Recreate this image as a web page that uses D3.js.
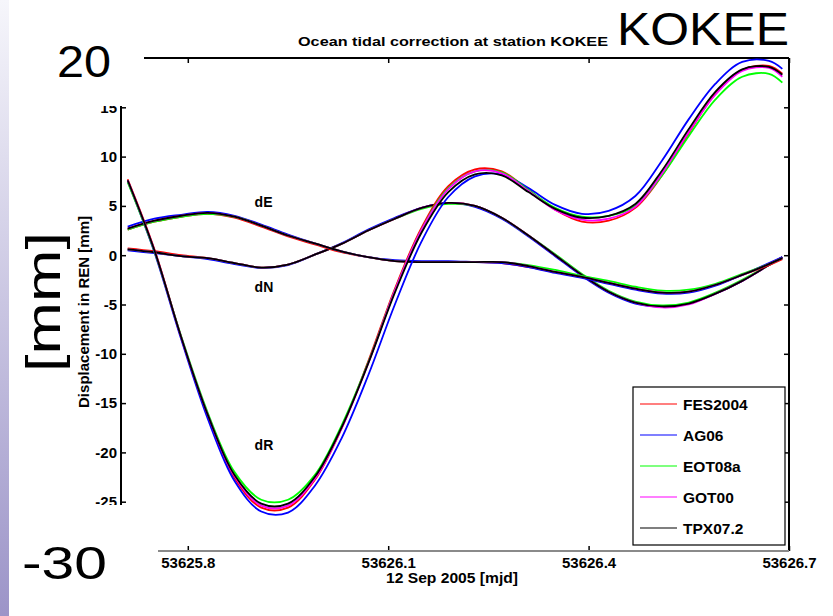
<!DOCTYPE html>
<html>
<head>
<meta charset="utf-8">
<script src="https://cdn.jsdelivr.net/npm/d3@7"></script>
<style>
  html, body { margin: 0; padding: 0; background: #fff; }
  svg { display: block; font-family: "Liberation Sans", Arial, sans-serif; }
</style>
</head>
<body>
<svg id="chart"></svg>
<script>
const width = 833;
const height = 616;

// ----- DATA -----
const mjd = [53625.71, 53625.75, 53625.79, 53625.83, 53625.87, 53625.91, 53625.95, 53625.99,
  53626.03, 53626.07, 53626.11, 53626.15, 53626.19, 53626.23, 53626.27, 53626.31, 53626.35,
  53626.39, 53626.43, 53626.47, 53626.51, 53626.55, 53626.59, 53626.63, 53626.67, 53626.69];

// radial (dR)
const fesR = [7.7, 0.6, -8.3, -16.3, -22.6, -25.6, -25.6, -22.8, -17.6, -10.8, -3.4, 2.8, 7.0, 8.7, 8.5, 6.6, 4.6, 3.4, 3.5, 4.8, 8.1, 12.4, 16.4, 18.8, 19.2, 18.4];
const agR  = [7.5, 0.3, -8.5, -16.6, -22.9, -26.0, -26.1, -23.4, -18.6, -12.2, -5.0, 1.4, 5.9, 8.0, 8.2, 6.8, 5.1, 4.2, 4.5, 6.0, 9.6, 13.8, 17.4, 19.6, 19.7, 18.9];
const eotR = [7.4, 0.4, -8.2, -16.0, -22.0, -24.8, -24.8, -22.3, -17.3, -10.9, -3.6, 2.6, 6.8, 8.5, 8.4, 6.6, 4.8, 3.9, 4.0, 5.0, 8.1, 12.1, 15.8, 18.1, 18.4, 17.5];
const gotR = [7.6, 0.5, -8.3, -16.2, -22.4, -25.4, -25.4, -22.7, -17.6, -11.0, -3.6, 2.6, 6.7, 8.5, 8.3, 6.5, 4.6, 3.6, 3.7, 4.9, 8.3, 12.5, 16.3, 18.7, 19.0, 18.1];
const tpxR = [7.6, 0.5, -8.3, -16.2, -22.3, -25.2, -25.2, -22.5, -17.5, -11.0, -3.8, 2.3, 6.4, 8.2, 8.1, 6.4, 4.7, 3.8, 4.0, 5.2, 8.6, 12.8, 16.6, 18.85, 19.1, 18.3];

// east (dE)
const fesE = [2.6, 3.4, 3.9, 4.2, 3.8, 2.9, 1.9, 1.1, 0.3, -0.2, -0.6, -0.7, -0.7, -0.7, -0.8, -1.2, -1.7, -2.2, -2.8, -3.4, -3.8, -3.7, -3.0, -2.0, -1.0, -0.4];
const agE  = [2.9, 3.7, 4.1, 4.4, 4.0, 3.1, 2.1, 1.2, 0.4, -0.2, -0.5, -0.6, -0.6, -0.7, -0.8, -1.2, -1.8, -2.3, -2.9, -3.5, -3.9, -3.8, -3.1, -2.0, -0.8, -0.2];
const eotE = [2.6, 3.4, 3.9, 4.2, 3.9, 3.0, 2.0, 1.2, 0.4, -0.2, -0.6, -0.7, -0.7, -0.7, -0.7, -1.0, -1.5, -2.1, -2.6, -3.2, -3.6, -3.5, -2.9, -1.9, -0.9, -0.3];
const gotE = [2.7, 3.5, 4.0, 4.3, 3.9, 3.0, 2.0, 1.2, 0.4, -0.2, -0.6, -0.7, -0.7, -0.7, -0.7, -1.1, -1.7, -2.2, -2.8, -3.4, -3.8, -3.7, -3.0, -2.0, -0.9, -0.3];
const tpxE = [2.7, 3.5, 4.0, 4.3, 3.9, 3.0, 2.0, 1.2, 0.4, -0.2, -0.6, -0.7, -0.7, -0.7, -0.7, -1.1, -1.7, -2.2, -2.8, -3.4, -3.8, -3.7, -3.0, -2.0, -0.9, -0.3];

// north (dN)
const fesN = [0.7, 0.4, 0.0, -0.3, -0.8, -1.25, -0.95, 0.05, 1.15, 2.5, 3.7, 4.8, 5.3, 5.0, 3.8, 2.0, 0.0, -2.0, -3.7, -4.8, -5.2, -4.9, -3.9, -2.6, -1.0, -0.2];
const agN  = [0.5, 0.2, -0.1, -0.4, -0.9, -1.3, -1.0, 0.05, 1.2, 2.6, 3.8, 4.8, 5.3, 4.9, 3.7, 1.9, -0.1, -2.1, -3.8, -4.9, -5.2, -4.9, -3.9, -2.6, -1.0, -0.2];
const eotN = [0.6, 0.3, -0.1, -0.3, -0.8, -1.25, -0.95, 0.05, 1.15, 2.5, 3.7, 4.7, 5.2, 5.0, 3.8, 2.0, 0.1, -1.9, -3.6, -4.7, -5.1, -4.8, -3.8, -2.5, -1.0, -0.2];
const gotN = [0.6, 0.3, -0.1, -0.3, -0.8, -1.25, -0.95, 0.05, 1.15, 2.5, 3.7, 4.8, 5.3, 5.0, 3.8, 2.0, 0.0, -2.0, -3.7, -4.8, -5.3, -5.0, -3.9, -2.6, -1.0, -0.2];
const tpxN = [0.6, 0.3, -0.1, -0.3, -0.8, -1.25, -0.95, 0.05, 1.15, 2.5, 3.7, 4.8, 5.3, 5.0, 3.8, 2.0, 0.0, -2.0, -3.7, -4.8, -5.2, -4.9, -3.9, -2.6, -1.0, -0.2];

const modelNames = ["FES2004", "AG06", "EOT08a", "GOT00", "TPX07.2"];
const modelColors = ["#ff0000", "#0000ff", "#00ff00", "#ff00ff", "#000000"];
const xTicks = [53625.8, 53626.1, 53626.4, 53626.7];
const yTicks = [-25, -20, -15, -10, -5, 0, 5, 10, 15];

const models = [
  { name: modelNames[0], color: modelColors[0], R: fesR, E: fesE, N: fesN },
  { name: modelNames[1], color: modelColors[1], R: agR,  E: agE,  N: agN },
  { name: modelNames[2], color: modelColors[2], R: eotR, E: eotE, N: eotN },
  { name: modelNames[3], color: modelColors[3], R: gotR, E: gotE, N: gotN },
  { name: modelNames[4], color: modelColors[4], R: tpxR, E: tpxE, N: tpxN },
];

const svg = d3.select("#chart")
  .attr("width", width)
  .attr("height", height);

// purple strip on the left edge
const defs = svg.append("defs");
const grad = defs.append("linearGradient")
  .attr("id", "strip").attr("x1", 0).attr("y1", 0).attr("x2", 0).attr("y2", 1);
grad.append("stop").attr("offset", "0%").attr("stop-color", "#f6f6fb");
grad.append("stop").attr("offset", "100%").attr("stop-color", "#9c94c8");
svg.append("rect").attr("x", 0).attr("y", 0).attr("width", 9).attr("height", height)
  .attr("fill", "url(#strip)");

const x = d3.scaleLinear().domain([53625.7, 53626.7]).range([121, 789]);
const y = d3.scaleLinear().domain([-30, 20]).range([551, 58]);

const tickFont = g => g.selectAll("text")
  .attr("font-size", 15).attr("font-weight", "bold").attr("fill", "#000");

// ----- AXES -----
svg.append("g")
  .attr("transform", `translate(${x.range()[0]},0)`)
  .call(d3.axisLeft(y).tickValues(yTicks).tickSize(-5).tickPadding(4).tickFormat(d => String(d)))
  .call(g => g.select(".domain").remove())
  .call(g => g.selectAll("line").attr("stroke", "#000").attr("stroke-width", 1.5))
  .call(tickFont);

svg.append("g")
  .attr("transform", `translate(${x.range()[1]},0)`)
  .call(d3.axisRight(y).tickValues(yTicks).tickSize(-5).tickFormat(""))
  .call(g => g.select(".domain").remove())
  .call(g => g.selectAll("line").attr("stroke", "#000").attr("stroke-width", 1.5));

svg.append("g")
  .attr("transform", `translate(0,${y.range()[1]})`)
  .call(d3.axisTop(x).tickValues(xTicks).tickSize(-5).tickFormat(""))
  .call(g => g.select(".domain").remove())
  .call(g => g.selectAll("line").attr("stroke", "#000").attr("stroke-width", 1.5));

svg.append("g")
  .attr("transform", `translate(0,${y.range()[0]})`)
  .call(d3.axisBottom(x).tickValues(xTicks).tickSize(-5).tickPadding(6).tickFormat(d3.format(".1f")))
  .call(g => g.select(".domain").remove())
  .call(g => g.selectAll("line").attr("stroke", "#000").attr("stroke-width", 1.5))
  .call(tickFont);

// frame
svg.append("line").attr("x1", x.range()[0]).attr("x2", x.range()[0])
  .attr("y1", y(20)).attr("y2", y(-30)).attr("stroke", "#000").attr("stroke-width", 2);
svg.append("line").attr("x1", x.range()[1]).attr("x2", x.range()[1])
  .attr("y1", y(20)).attr("y2", y(-30)).attr("stroke", "#000").attr("stroke-width", 2);
svg.append("line").attr("x1", x.range()[0]).attr("x2", x.range()[1])
  .attr("y1", y(20)).attr("y2", y(20)).attr("stroke", "#000").attr("stroke-width", 2);
svg.append("line").attr("x1", x.range()[0]).attr("x2", x.range()[1])
  .attr("y1", y(-30)).attr("y2", y(-30)).attr("stroke", "#8a8a8a").attr("stroke-width", 2);

// ----- LINES -----
const line = d3.line()
  .x((d, i) => x(mjd[i]))
  .y(d => y(d))
  .curve(d3.curveCatmullRom.alpha(0.5));

const plot = svg.append("g");
["N", "E", "R"].forEach(comp => {
  models.forEach(m => {
    plot.append("path")
      .datum(m[comp])
      .attr("fill", "none")
      .attr("stroke", m.color)
      .attr("stroke-width", 1.8)
      .attr("d", line);
  });
});

// component labels
const compLabels = [
  { text: "dE", t: 53625.9, v: 4.9 },
  { text: "dN", t: 53625.9, v: -3.7 },
  { text: "dR", t: 53625.9, v: -19.8 },
];
svg.append("g").selectAll("text")
  .data(compLabels)
  .join("text")
  .attr("x", d => x(d.t))
  .attr("y", d => y(d.v))
  .attr("font-size", 14)
  .attr("font-weight", "bold")
  .text(d => d.text);

// ----- LEGEND -----
const legend = svg.append("g").attr("transform", "translate(633,387)");
legend.append("rect")
  .attr("width", 152).attr("height", 158)
  .attr("fill", "#fff").attr("stroke", "#000").attr("stroke-width", 1.2);
models.forEach((m, i) => {
  const ly = 17 + i * 31;
  legend.append("line")
    .attr("x1", 7).attr("x2", 44).attr("y1", ly).attr("y2", ly)
    .attr("stroke", m.color).attr("stroke-width", 1.2);
  legend.append("text")
    .attr("x", 50).attr("y", ly + 5.5)
    .attr("font-size", 15.5).attr("font-weight", "bold")
    .text(m.name);
});

// ----- TITLE / AXIS LABELS -----
svg.append("text")
  .attr("x", 298).attr("y", 46)
  .attr("font-size", 12.5).attr("font-weight", "bold")
  .attr("textLength", 310).attr("lengthAdjust", "spacingAndGlyphs")
  .text("Ocean tidal correction at station KOKEE");

svg.append("text")
  .attr("x", 452).attr("y", 583)
  .attr("text-anchor", "middle")
  .attr("font-size", 15).attr("font-weight", "bold")
  .attr("textLength", 132).attr("lengthAdjust", "spacingAndGlyphs")
  .text("12 Sep 2005 [mjd]");

svg.append("text")
  .attr("transform", "translate(89,312) rotate(-90)")
  .attr("text-anchor", "middle")
  .attr("font-size", 14).attr("font-weight", "bold")
  .attr("textLength", 192).attr("lengthAdjust", "spacingAndGlyphs")
  .text("Displacement in REN [mm]");

// overlaid big labels (with white boxes hiding the original ones)
svg.append("rect").attr("x", 12).attr("y", 20).attr("width", 132).attr("height", 86).attr("fill", "#fff");
svg.append("rect").attr("x", 12).attr("y", 505).attr("width", 146).attr("height", 90).attr("fill", "#fff");

svg.append("text")
  .attr("x", 57).attr("y", 77)
  .attr("font-size", 44)
  .attr("textLength", 54).attr("lengthAdjust", "spacingAndGlyphs")
  .text("20");

svg.append("text")
  .attr("x", 22).attr("y", 579)
  .attr("font-size", 46)
  .attr("textLength", 85).attr("lengthAdjust", "spacingAndGlyphs")
  .text("-30");

svg.append("text")
  .attr("transform", "translate(60,302) rotate(-90)")
  .attr("text-anchor", "middle")
  .attr("font-size", 48)
  .attr("textLength", 140).attr("lengthAdjust", "spacingAndGlyphs")
  .text("[mm]");

svg.append("text")
  .attr("x", 617).attr("y", 45)
  .attr("font-size", 46)
  .attr("textLength", 172).attr("lengthAdjust", "spacingAndGlyphs")
  .text("KOKEE");
</script>
</body>
</html>
